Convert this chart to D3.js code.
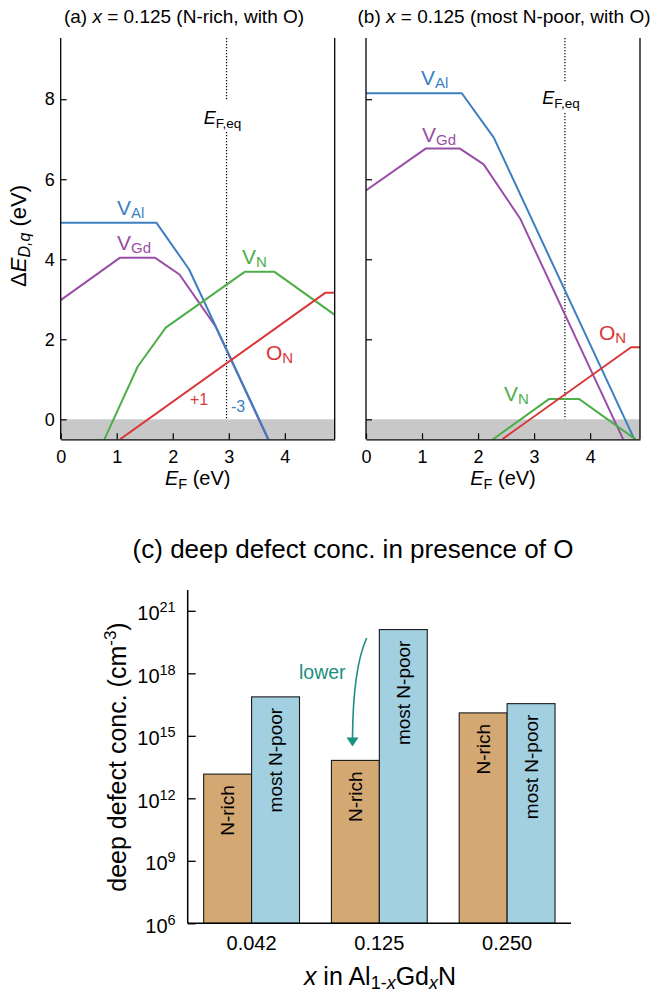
<!DOCTYPE html>
<html>
<head>
<meta charset="utf-8">
<script src="https://cdn.jsdelivr.net/npm/d3@7/dist/d3.min.js"></script>
<style>
  html, body { margin: 0; padding: 0; background: #fff; }
  svg { display: block; font-family: "Liberation Sans", Arial, Helvetica, sans-serif; }
</style>
</head>
<body>
<svg id="chart" width="660" height="996"></svg>
<script>
// ---- Defect formation energy vs Fermi level (kink points, eV) ----
const bandGap = 4.89;
const yTicksE = [0, 2, 4, 6, 8];
const xTicksE = [0, 1, 2, 3, 4];

// (a) N-rich, with O
const VAl_a = [[0, 4.91], [1.71, 4.91], [2.29, 3.75], [3.71, -0.5]];
const VGd_a = [[0, 2.98], [1.06, 4.04], [1.68, 4.04], [2.12, 3.62], [2.76, 2.33], [3.70, -0.5]];
const VN_a  = [[0.78, -0.5], [1.375, 1.32], [1.875, 2.29], [3.29, 3.69], [3.81, 3.69], [4.89, 2.61]];
const ON_a  = [[1.06, -0.5], [4.72, 3.16], [4.89, 3.16]];
const EFeq_a = 2.96;

// (b) most N-poor, with O
const VAl_b = [[0, 8.15], [1.71, 8.15], [2.28, 7.04], [4.79, -0.5]];
const VGd_b = [[0, 5.72], [1.07, 6.77], [1.67, 6.77], [2.10, 6.37], [2.75, 5.02], [4.59, -0.5]];
const VN_b  = [[2.265, -0.5], [3.27, 0.51], [3.80, 0.51], [4.81, -0.5]];
const ON_b  = [[2.43, -0.5], [4.73, 1.80], [4.89, 1.80]];
const EFeq_b = 3.55;

// ---- (c) deep defect concentration (cm^-3) ----
const compositions = ["0.042", "0.125", "0.250"];
const conditions = ["N-rich", "most N-poor"];
const concNrich  = [1.45e13, 6.6e13, 1.26e16];
const concNpoor  = [7.4e16, 1.26e20, 3.5e16];
const concTicks  = [1e6, 1e9, 1e12, 1e15, 1e18, 1e21];
const concTickExp = ["6", "9", "12", "15", "18", "21"];

const colors = { VAl: "#3d7fc0", VGd: "#9a4ea8", VN: "#4dae4a", ON: "#d8383a" };
const barColors = { "N-rich": "#d4a873", "most N-poor": "#a2d0e0" };
const teal = "#1a9080";

const svg = d3.select("#chart");

// helper: write text with mixed runs [{t, it, sub, sup, size}]
function runs(sel, parts, baseSize) {
  parts.forEach(p => {
    const sz = p.size || baseSize;
    const ts = sel.append("tspan").text(p.t).attr("font-size", sz);
    if (p.it) ts.attr("font-style", "italic");
    if (p.sub) ts.attr("dy", p.sub);
    if (p.sup) ts.attr("dy", -p.sup);
    if (p.back) ts.attr("dy", p.back);
  });
  return sel;
}

const yE = d3.scaleLinear().domain([-0.5, 9.53]).range([439.3, 38]);

const panels = [
  {
    x0: 60.7, x1: 334.7, eq: EFeq_a, showY: true,
    titleX: 184, titleParts: [{t: "(a) "}, {t: "x", it: true}, {t: " = 0.125 (N-rich, with O)"}],
    lines: [["VGd", VGd_a], ["VAl", VAl_a], ["VN", VN_a], ["ON", ON_a]],
    labels: [
      {k: "VAl", x: 117, y: 215, s: "Al"},
      {k: "VGd", x: 117, y: 250, s: "Gd"},
      {k: "VN", x: 242, y: 264, s: "N"},
      {k: "ON", x: 266, y: 360, s: "N", m: "O"}
    ],
    gap: [100, 132], eqLabelY: 124,
    extra: true
  },
  {
    x0: 366, x1: 640, eq: EFeq_b, showY: false,
    titleX: 504, titleParts: [{t: "(b) "}, {t: "x", it: true}, {t: " = 0.125 (most N-poor, with O)"}],
    lines: [["VGd", VGd_b], ["VAl", VAl_b], ["VN", VN_b], ["ON", ON_b]],
    labels: [
      {k: "VAl", x: 421, y: 85, s: "Al"},
      {k: "VGd", x: 422, y: 142, s: "Gd"},
      {k: "VN", x: 504, y: 401, s: "N"},
      {k: "ON", x: 599, y: 340, s: "N", m: "O"}
    ],
    gap: [83, 113], eqLabelY: 104,
    extra: false
  }
];

panels.forEach((p, i) => {
  const x = d3.scaleLinear().domain([0, bandGap]).range([p.x0, p.x1]);
  const g = svg.append("g");
  const clipId = "clip" + i;
  svg.append("clipPath").attr("id", clipId)
    .append("rect").attr("x", p.x0).attr("y", yE.range()[1])
    .attr("width", p.x1 - p.x0).attr("height", yE.range()[0] - yE.range()[1]);

  // shaded region below zero
  g.append("rect").attr("x", x(0)).attr("y", yE(0))
    .attr("width", x(bandGap) - x(0)).attr("height", yE(-0.5) - yE(0))
    .attr("fill", "#c8c8c8");

  // equilibrium Fermi level
  const top = yE.range()[1];
  [[top, p.gap[0]], [p.gap[1], yE(0)]].forEach(([a, b]) => {
    g.append("line").attr("x1", x(p.eq)).attr("x2", x(p.eq))
      .attr("y1", a).attr("y2", b)
      .attr("stroke", "#000").attr("stroke-width", 1.2).attr("stroke-dasharray", "1.2,1.8");
  });
  const eqT = g.append("text").attr("x", x(p.eq) - 4).attr("y", p.eqLabelY)
    .attr("text-anchor", "middle").attr("fill", "#000");
  runs(eqT, [{t: "E", it: true}, {t: "F,eq", size: 13.5, sub: 4}], 18);

  // defect lines
  const line = d3.line().x(d => x(d[0])).y(d => yE(d[1]));
  const lg = g.append("g").attr("clip-path", `url(#${clipId})`);
  p.lines.forEach(([k, data]) => {
    lg.append("path").datum(data).attr("d", line)
      .attr("fill", "none").attr("stroke", colors[k]).attr("stroke-width", 2)
      .attr("stroke-linejoin", "round");
  });

  // axes
  const ax = d3.axisLeft(yE).tickValues(yTicksE).tickSizeInner(-6).tickSizeOuter(0).tickPadding(6)
    .tickFormat(p.showY ? d3.format("d") : () => "");
  const axG = g.append("g").attr("transform", `translate(${p.x0},0)`).call(ax);
  const bx = d3.axisBottom(x).tickValues(xTicksE).tickSizeInner(-6).tickSizeOuter(0).tickPadding(11)
    .tickFormat(d3.format("d"));
  const bxG = g.append("g").attr("transform", `translate(0,${yE(-0.5)})`).call(bx);
  [axG, bxG].forEach(a => {
    a.selectAll("path.domain").attr("stroke", "#000").attr("stroke-width", 1.3);
    a.selectAll(".tick line").attr("stroke", "#000").attr("stroke-width", 1.2);
    a.selectAll(".tick text").attr("font-size", 18).attr("fill", "#000")
      .attr("font-family", "Liberation Sans, Arial, sans-serif");
  });
  axG.select("path.domain").attr("d", `M0,${yE(-0.5)}V${top}`);
  // right frame line
  g.append("line").attr("x1", p.x1).attr("x2", p.x1).attr("y1", top).attr("y2", yE(-0.5))
    .attr("stroke", "#000").attr("stroke-width", 1.3);

  // title
  const tt = g.append("text").attr("x", p.titleX).attr("y", 23).attr("text-anchor", "middle");
  runs(tt, p.titleParts, 19);

  // x-axis title
  const xt = g.append("text").attr("x", (p.x0 + p.x1) / 2).attr("y", 485).attr("text-anchor", "middle");
  runs(xt, [{t: "E", it: true}, {t: "F", size: 14.5, sub: 4}, {t: " (eV)", back: -4}], 20);

  // curve labels
  p.labels.forEach(l => {
    const t = g.append("text").attr("x", l.x).attr("y", l.y).attr("fill", colors[l.k]);
    runs(t, [{t: l.m || "V"}, {t: l.s, size: 15, sub: 3}], 21);
  });

  if (p.extra) {
    g.append("text").attr("x", 190).attr("y", 405).attr("fill", colors.ON)
      .attr("font-size", 16).text("+1");
    g.append("text").attr("x", 231).attr("y", 412).attr("fill", colors.VAl)
      .attr("font-size", 16).text("-3");
  }
});

// y-axis title for (a)/(b)
{
  const t = svg.append("text").attr("transform", "translate(26,236) rotate(-90)").attr("text-anchor", "middle");
  runs(t, [{t: "Δ"}, {t: "E", it: true}, {t: "D,q", it: true, size: 16, sub: 4}, {t: " (eV)", back: -4}], 22);
}

// ---- (c) bar chart ----
const yC = d3.scaleLog().domain([1e6, 1e22]).range([923.3, 590]);
const xC = d3.scaleBand().domain(compositions).range([187.7, 571]).paddingInner(0.25).paddingOuter(0.125);
const xSub = d3.scaleBand().domain(conditions).range([0, xC.bandwidth()]);

svg.append("text").attr("x", 353).attr("y", 558).attr("text-anchor", "middle")
  .attr("font-size", 26).text("(c) deep defect conc. in presence of O");

const barData = [];
compositions.forEach((c, i) => {
  barData.push({c, cond: "N-rich", v: concNrich[i]});
  barData.push({c, cond: "most N-poor", v: concNpoor[i]});
});

const bars = svg.append("g");
bars.selectAll("rect").data(barData).join("rect")
  .attr("x", d => xC(d.c) + xSub(d.cond))
  .attr("y", d => yC(d.v))
  .attr("width", xSub.bandwidth())
  .attr("height", d => yC(1e6) - yC(d.v))
  .attr("fill", d => barColors[d.cond])
  .attr("stroke", "#1a1a1a").attr("stroke-width", 1.1);

bars.selectAll("text").data(barData).join("text")
  .attr("transform", d => `translate(${xC(d.c) + xSub(d.cond) + xSub.bandwidth() / 2},${yC(d.v) + 11}) rotate(-90)`)
  .attr("text-anchor", "end").attr("dy", "0.36em")
  .attr("font-size", 19).text(d => d.cond);

// axes for (c)
const cy = d3.axisLeft(yC).tickValues(concTicks).tickSizeInner(-8).tickSizeOuter(0).tickPadding(12)
  .tickFormat(() => "");
const cyG = svg.append("g").attr("transform", `translate(187.7,0)`).call(cy);
cyG.select("path.domain").attr("d", `M0,923.3V590`).attr("stroke", "#000").attr("stroke-width", 1.5);
cyG.selectAll(".tick line").attr("stroke", "#000").attr("stroke-width", 1.3);
cyG.selectAll(".tick text").each(function(d, i) {
  const t = d3.select(this).attr("font-size", 20).attr("fill", "#000")
    .attr("font-family", "Liberation Sans, Arial, sans-serif").attr("dy", "0.45em");
  t.append("tspan").text("10");
  t.append("tspan").text(concTickExp[i]).attr("font-size", 14.5).attr("dy", -8);
});

const cx = d3.axisBottom(xC).tickSize(0).tickPadding(13);
const cxG = svg.append("g").attr("transform", `translate(0,923.3)`).call(cx);
cxG.select("path.domain").attr("d", `M187.7,0H571`).attr("stroke", "#000").attr("stroke-width", 1.5);
cxG.selectAll(".tick text").attr("font-size", 20).attr("fill", "#000")
  .attr("font-family", "Liberation Sans, Arial, sans-serif");

// axis titles for (c)
{
  const t = svg.append("text").attr("transform", "translate(126,757) rotate(-90)").attr("text-anchor", "middle");
  runs(t, [{t: "deep defect conc. (cm"}, {t: "-3", size: 17, sup: 10}, {t: ")", back: 10}], 25);
  const xt = svg.append("text").attr("x", 380).attr("y", 985).attr("text-anchor", "middle");
  runs(xt, [{t: "x", it: true}, {t: " in Al"}, {t: "1-", size: 18, sub: 4}, {t: "x", it: true, size: 18},
            {t: "Gd", back: -4}, {t: "x", it: true, size: 18, sub: 4}, {t: "N", back: -4}], 25);
}

// annotation: lower
svg.append("text").attr("x", 299).attr("y", 679).attr("fill", teal).attr("font-size", 19.5).text("lower");
svg.append("path").attr("d", "M366.7,638 Q353,668 352.5,738")
  .attr("fill", "none").attr("stroke", teal).attr("stroke-width", 1.6);
svg.append("path").attr("d", "M346.5,737.5 L358.5,737.5 L352.5,746.5 Z").attr("fill", teal);
</script>
</body>
</html>
